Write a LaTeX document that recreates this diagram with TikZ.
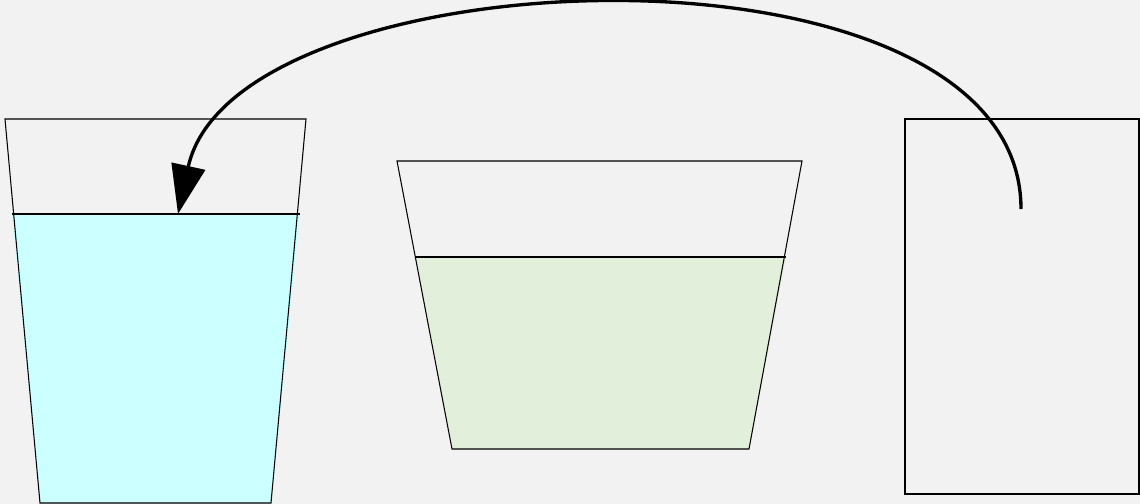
\documentclass[tikz,border=0pt]{standalone}
\usepackage{xcolor}
\usepackage{tikz}
\usetikzlibrary{arrows.meta, positioning, calc}

\definecolor{bggray}{HTML}{F2F2F2}
\definecolor{watercyan}{HTML}{CCFFFF}
\definecolor{juicegreen}{HTML}{E2EFDA}

\tikzset{
    outline/.style={draw=black, line width=0.6pt},
    pour/.style={line width=1.9pt, -{Triangle[length=0.98cm, width=0.68cm]}}
}

\begin{document}
\begin{tikzpicture}[x=0.02cm, y=-0.02cm]
    % 背景
    \fill[bggray] (0, 0) rectangle (1140, 504);
    \useasboundingbox (0, 0) rectangle (1140, 504);

    % 左杯（水）
    \fill[watercyan] (12, 214) -- (300, 214) -- (271, 503) -- (40, 503) -- cycle;
    \draw[outline] (5, 119) -- (306, 119) -- (271, 503) -- (40, 503) -- cycle;
    \draw[outline] (12, 214) -- (300, 214);

    % 中杯
    \fill[juicegreen] (415, 257) -- (786, 257) -- (749, 449) -- (452, 449) -- cycle;
    \draw[outline] (397, 161) -- (802, 161) -- (749, 449) -- (452, 449) -- cycle;
    \draw[outline] (415, 257) -- (786, 257);

    % 右侧容器
    \draw[outline] (905, 119) rectangle (1139, 494);

    % 倒
    \coordinate (src) at (1021, 209);
    \coordinate (dst) at (178, 214);
    \draw[pour] (src) .. controls (1021, -76) and (235, -48) .. (dst);
\end{tikzpicture}
\end{document}
